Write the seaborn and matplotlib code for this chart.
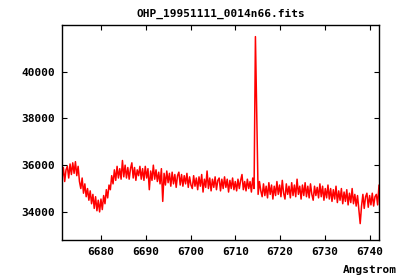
import numpy as np
import pandas as pd
import matplotlib
matplotlib.use('Agg')
import matplotlib.pyplot as plt
import seaborn as sns

# spectrum: start wavelength and step (as in the FITS header), fluxes
crval1 = 6671.3
cdelt1 = 0.3
flux = [
    35400, 35900, 35300, 35800, 35950, 35450, 36050, 35600, 36100, 35650,
    36150, 35550, 35950, 35300, 35000, 35450, 34800, 35200, 34650, 35000,
    34500, 34900, 34350, 34750, 34150, 34650, 34050, 34500, 34000, 34550,
    34100, 34700, 34350, 34950, 34600, 35150, 34950, 35550, 35200, 35800,
    35350, 35950, 35450, 35850, 35400, 36200, 35500, 36000, 35450, 35900,
    35400, 35850, 36100, 35450, 35900, 35350, 35800, 35550, 35950, 35400,
    35850, 35350, 35950, 35450, 35850, 34950, 35750, 35350, 36000, 35400,
    35800, 35300, 35700, 35200, 35850, 34450, 35650, 35150, 35750, 35250,
    35650, 35100, 35700, 35200, 35600, 35050, 35550, 35700, 35150, 35600,
    35100, 35550, 35200, 35650, 35050, 35500, 35150, 35000, 35550, 35100,
    35450, 34950, 35500, 35100, 35600, 34850, 35400, 35050, 35750, 35000,
    35450, 34900, 35400, 35050, 35500, 34950, 35350, 35450, 34900, 35400,
    35000, 35500, 35050, 35400, 34850, 35350, 35000, 35450, 34950, 35300,
    34900, 35400, 35000, 35350, 35600, 34950, 35300, 34900, 35400, 35000,
    35300, 34850, 35450, 35000, 41500, 38100, 34750, 35300, 34900, 34650,
    35200, 34700, 35100, 34600, 35250, 34750, 35150, 34550, 35100, 34700,
    35300, 34750, 35150, 34650, 35350, 34800, 34550, 35200, 34750, 35100,
    34600, 35250, 34700, 35150, 34650, 35400, 34750, 35100, 34550, 35150,
    34700, 35250, 34650, 35100, 34600, 35200, 34750, 34500, 35100, 34700,
    35050, 34600, 35200, 34650, 35100, 34500, 35000, 34600, 35150, 34550,
    35000, 34450, 34950, 34550, 35100, 34400, 34900, 34500, 35000, 34350,
    34850, 34450, 34950, 34300, 34800, 34400, 35000, 34350, 34750, 34250,
    34700, 34100, 33500, 34250, 34750, 34150, 34650, 34800, 34200, 34700,
    34300, 34800, 34250, 34650, 34750, 34300, 35150,
]
xticks = [6680, 6690, 6700, 6710, 6720, 6730, 6740]
yticks = [34000, 36000, 38000, 40000]
title = 'OHP_19951111_0014n66.fits'

wave = crval1 + cdelt1 * np.arange(len(flux))
df = pd.DataFrame({'Angstrom': wave, 'flux': flux})

sns.set_style('ticks')
plt.rcParams['font.family'] = ['DejaVu Sans Mono']
plt.rcParams['font.weight'] = 'bold'
plt.rcParams['text.color'] = 'black'

fig = plt.figure(figsize=(4, 2.8), dpi=100)
ax = fig.add_axes([0.155, 0.143, 0.7925, 0.768])
sns.lineplot(data=df, x='Angstrom', y='flux', ax=ax, color='#ff0000',
             linewidth=1.1, estimator=None)

ax.set_xlim(6671.3, 6742.1)
ax.set_ylim(32800, 42000)
ax.set_xticks(xticks)
ax.set_yticks(yticks)
ax.tick_params(direction='in', length=3.5, width=0.8, top=True, right=True,
               labelsize=8, colors='black', pad=5)
for lab in ax.get_xticklabels() + ax.get_yticklabels():
    lab.set_fontweight('bold')
for sp in ax.spines.values():
    sp.set_visible(True)
    sp.set_linewidth(1.0)
    sp.set_color('black')

ax.set_ylabel('')
ax.set_xlabel('Angstrom', fontsize=8, fontweight='bold', ha='right', color='black')
ax.xaxis.set_label_coords(1.055, -0.115)
ax.set_title(title, fontsize=8, fontweight='bold', pad=6, color='black')

fig.savefig('out.png', dpi=100)
